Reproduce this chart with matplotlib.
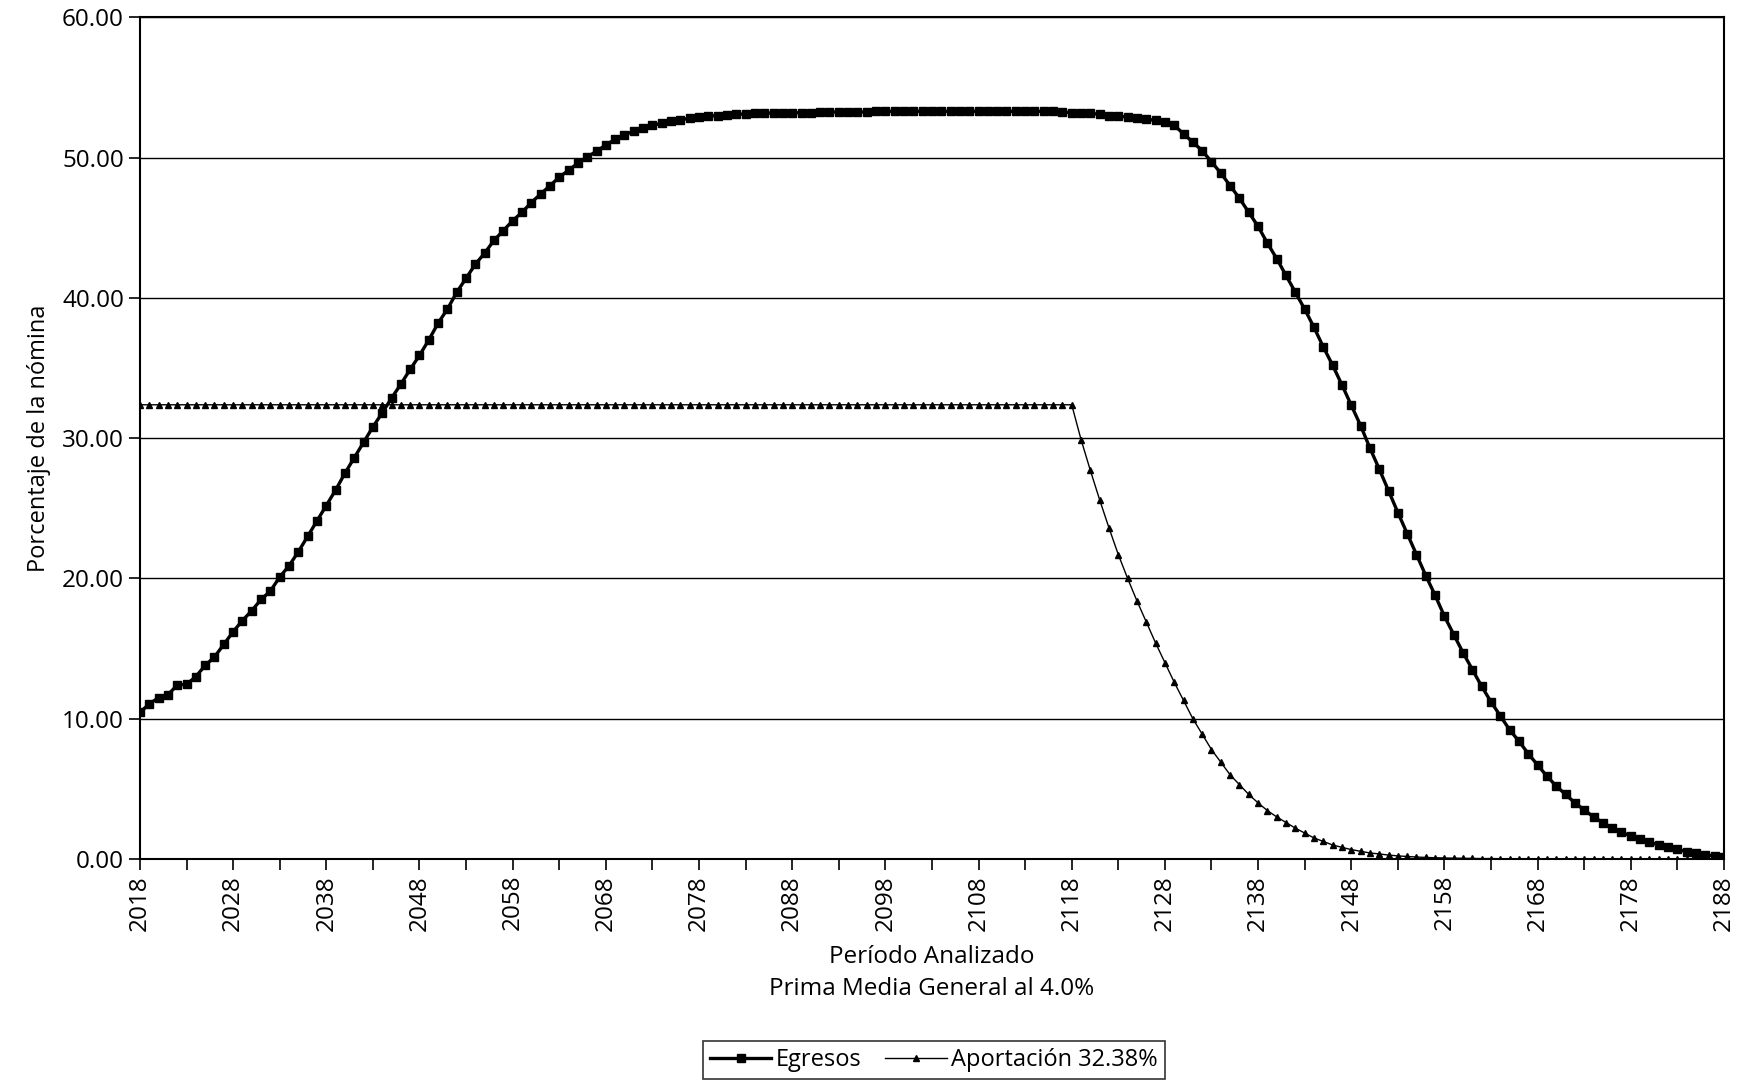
import matplotlib
matplotlib.use("Agg")
import matplotlib.pyplot as plt
from matplotlib.ticker import FixedLocator

plt.rcParams['font.family'] = ['Open Sans', 'DejaVu Sans']

years = list(range(2018, 2189))

# Egresos, % de la nómina (2018-2188)
egresos = [
    10.45, 11.05, 11.5, 11.7, 12.4, 12.45, 13.0, 13.8, 14.4, 15.3,    # 2018-2027
    16.2, 17.0, 17.7, 18.5, 19.1, 20.1, 20.9, 21.9, 23.0, 24.1,       # 2028-2037
    25.2, 26.3, 27.5, 28.6, 29.7, 30.8, 31.8, 32.85, 33.85, 34.9,     # 2038-2047
    35.9, 37.0, 38.2, 39.2, 40.4, 41.4, 42.4, 43.2, 44.1, 44.8,       # 2048-2057
    45.5, 46.1, 46.8, 47.4, 48.0, 48.6, 49.1, 49.6, 50.05, 50.45,     # 2058-2067
    50.9, 51.3, 51.6, 51.9, 52.1, 52.3, 52.45, 52.6, 52.7, 52.8,      # 2068-2077
    52.9, 52.95, 53.0, 53.05, 53.1, 53.1, 53.15, 53.15, 53.2, 53.2,   # 2078-2087
    53.2, 53.2, 53.2, 53.25, 53.25, 53.25, 53.25, 53.25, 53.25, 53.3, # 2088-2097
    53.3, 53.3, 53.3, 53.3, 53.3, 53.3, 53.3, 53.3, 53.3, 53.3,       # 2098-2107
    53.3, 53.3, 53.3, 53.3, 53.3, 53.3, 53.3, 53.3, 53.3, 53.25,      # 2108-2117
    53.2, 53.2, 53.15, 53.1, 53.0, 52.95, 52.9, 52.8, 52.75, 52.65,   # 2118-2127
    52.55, 52.3, 51.7, 51.1, 50.5, 49.7, 48.9, 48.0, 47.1, 46.1,      # 2128-2137
    45.1, 43.9, 42.8, 41.6, 40.4, 39.2, 37.9, 36.5, 35.2, 33.8,       # 2138-2147
    32.35, 30.9, 29.3, 27.8, 26.25, 24.7, 23.2, 21.7, 20.2, 18.8,     # 2148-2157
    17.3, 16.0, 14.7, 13.5, 12.3, 11.2, 10.2, 9.2, 8.4, 7.5,          # 2158-2167
    6.7, 5.9, 5.2, 4.6, 4.0, 3.5, 3.0, 2.6, 2.2, 1.9,                 # 2168-2177
    1.65, 1.4, 1.2, 1.0, 0.83, 0.69, 0.52, 0.4, 0.3, 0.22,            # 2178-2187
    0.15,                                                             # 2188
]

# Aportacion 32.38% constante hasta 2118, luego decrece
aportacion_const = [32.38] * 101  # 2018-2118
aportacion_decae = [
    29.9, 27.7, 25.6, 23.6, 21.7, 20.0, 18.4, 16.9, 15.4, 14.0,       # 2119-2128
    12.6, 11.3, 10.0, 8.9, 7.8, 6.9, 6.0, 5.3, 4.6, 4.0,              # 2129-2138
    3.45, 3.0, 2.6, 2.2, 1.85, 1.5, 1.25, 1.0, 0.83, 0.67,            # 2139-2148
    0.55, 0.43, 0.36, 0.28, 0.22, 0.18, 0.14, 0.11, 0.09, 0.07,       # 2149-2158
    0.06, 0.05, 0.04, 0.03, 0.03, 0.02, 0.02, 0.02, 0.01, 0.01,       # 2159-2168
    0.01, 0.01, 0.01, 0.01, 0.01, 0.01, 0.01, 0.0, 0.0, 0.0,          # 2169-2178
    0.0, 0.0, 0.0, 0.0, 0.0, 0.0, 0.0, 0.0, 0.0, 0.0,                 # 2179-2188
]
aportacion = aportacion_const + aportacion_decae

year_labels = list(range(2018, 2189, 10))
y_ticks = [0, 10, 20, 30, 40, 50, 60]

fig = plt.figure(figsize=(17.49, 10.85), dpi=100)
ax = fig.add_axes([0.080, 0.2083, 0.9057, 0.7757])

ax.plot(years, egresos, color='black', lw=2.4, marker='s', ms=6.4,
        label='Egresos', zorder=3)
ax.plot(years, aportacion, color='black', lw=1.0, marker='^', ms=4.0,
        label='Aportación 32.38%', zorder=4)

ax.set_xlim(2018, 2188)
ax.set_ylim(0, 60)
ax.set_yticks(y_ticks)
ax.set_yticklabels([f"{v:.2f}" for v in y_ticks])
ax.set_xticks(year_labels)
ax.set_xticklabels([str(y) for y in year_labels], rotation=90)
ax.xaxis.set_minor_locator(FixedLocator(list(range(2023, 2188, 10))))
ax.tick_params(axis='both', which='both', direction='out', color='black',
               labelsize=17.5, width=1.2)
ax.tick_params(axis='both', which='major', length=8)
ax.tick_params(axis='x', which='minor', length=8)
ax.grid(axis='y', color='black', lw=1.0)
ax.set_axisbelow(True)
for s in ax.spines.values():
    s.set_color('black')
    s.set_linewidth(1.5)

ax.set_ylabel('Porcentaje de la nómina', fontsize=17, labelpad=8)
ax.set_xlabel('Período Analizado\nPrima Media General al 4.0%', fontsize=17.5,
              labelpad=10, linespacing=1.45)

leg = fig.legend(loc='center', bbox_to_anchor=(0.534, 0.023), ncol=2,
                 fontsize=17, frameon=True, fancybox=False, edgecolor='black',
                 handlelength=2.6, handletextpad=0.2, columnspacing=1.0,
                 borderpad=0.3)
leg.get_frame().set_linewidth(1.2)

fig.savefig('out.png', dpi=100, facecolor='white')
